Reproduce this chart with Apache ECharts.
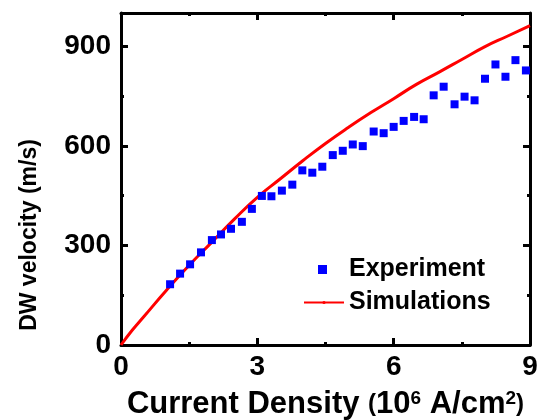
<!DOCTYPE html>
<html>
<head>
<meta charset="utf-8">
<script src="https://cdn.jsdelivr.net/npm/echarts@6/dist/echarts.min.js"></script>
<style>
  html, body { margin: 0; padding: 0; background: #fff; }
  #chart { width: 538px; height: 420px; }
</style>
</head>
<body>
<div id="chart"></div>
<script>
// experiment points (blue squares)
const expX = [1.08, 1.30, 1.52, 1.76, 2.00, 2.20, 2.42, 2.66, 2.88, 3.10, 3.31, 3.54, 3.77, 3.99, 4.21, 4.43, 4.66, 4.88,
  5.10, 5.32, 5.56, 5.78, 6.00, 6.22, 6.45, 6.66, 6.88, 7.10, 7.34, 7.56, 7.78, 8.01, 8.24, 8.46, 8.68, 8.91];
const expY = [183, 215, 243, 279, 316, 333, 350, 371, 410, 449, 448, 465, 483, 526, 519, 537, 572, 585,
  604, 599, 643, 638, 657, 675, 687, 680, 752, 778, 725, 748, 737, 802, 845, 808, 858, 827];
// simulation curve (red line)
const simX = [0, 0.25, 0.5, 1, 1.5, 2, 2.5, 3, 3.5, 4, 4.5, 5, 5.5, 6, 6.5, 7, 7.5, 8, 8.5, 9];
const simY = [0, 45, 85, 165, 240, 310, 380, 445, 500, 555, 607, 655, 700, 742, 785, 822, 860, 898, 930, 962];
// ticks
const xTicks = [0, 3, 6, 9];
const yTicks = [0, 300, 600, 900];
const yMinor = [150, 450, 750];

const font = 'Liberation Sans, Arial, sans-serif';
let myChart = echarts.init(document.getElementById('chart'));

function xAx(pos, labels) {
  return {
    type: 'value', position: pos, min: 0, max: 9, interval: 3,
    axisLine: { show: true, onZero: false, lineStyle: { color: '#000', width: 3 } },
    axisTick: { show: true, inside: true, length: 7, lineStyle: { color: '#000', width: 3 } },
    minorTick: { show: true, splitNumber: 2, length: 3, lineStyle: { color: '#000', width: 3 } },
    splitLine: { show: false },
    axisLabel: { show: labels, margin: 8, color: '#000', fontSize: 28, fontWeight: 'bold', fontFamily: font },
    name: labels ? 'Current Density {s|(}10{sup|6} A/cm{sup|2}{s|)}' : '',
    nameLocation: 'middle',
    nameGap: 44,
    nameTextStyle: {
      color: '#000', fontSize: 31, fontWeight: 'bold', fontFamily: font, lineHeight: 30,
      rich: {
        s: { fontSize: 24, fontWeight: 'bold', fontFamily: font, color: '#000', lineHeight: 30 },
        sup: { fontSize: 19, fontWeight: 'bold', fontFamily: font, color: '#000', verticalAlign: 'top', lineHeight: 18 }
      }
    }
  };
}

function yAx(pos, ticks, len, labels, line) {
  return {
    type: 'value', position: pos, min: 0, max: 1000,
    axisLine: { show: line, onZero: false, lineStyle: { color: '#000', width: 3 } },
    axisTick: { show: true, inside: true, length: len, customValues: ticks, lineStyle: { color: '#000', width: 3 } },
    splitLine: { show: false },
    axisLabel: { show: labels, customValues: yTicks, margin: 10, color: '#000', fontSize: 28, fontWeight: 'bold', fontFamily: font },
    name: labels ? 'DW velocity (m/s)' : '',
    nameLocation: 'middle',
    nameGap: 80,
    nameTextStyle: { color: '#000', fontSize: 23, fontWeight: 'bold', fontFamily: font, padding: [0, 112, 0, 0] }
  };
}

let expData = expX.map((x, i) => [x, expY[i]]);
let simData = simX.map((x, i) => [x, simY[i]]);

let option = {
  backgroundColor: '#fff',
  animation: false,
  grid: { left: 121, right: 8, top: 13, bottom: 75, containLabel: false, outerBoundsMode: 'none' },
  xAxis: [xAx('bottom', true), xAx('top', false)],
  yAxis: [
    yAx('left', yTicks, 7, true, true),
    yAx('right', yTicks, 7, false, true),
    yAx('left', yMinor, 3, false, false),
    yAx('right', yMinor, 3, false, false)
  ],
  legend: [
    {
      data: ['Experiment'], left: 313, top: 252, itemWidth: 9, itemHeight: 9, selectedMode: false,
      textStyle: { color: '#000', fontSize: 25, fontWeight: 'bold', fontFamily: font, padding: [0, 0, 0, 17] }
    },
    {
      data: ['Simulations'], left: 298, top: 285, itemWidth: 40, itemHeight: 4, selectedMode: false,
      textStyle: { color: '#000', fontSize: 25, fontWeight: 'bold', fontFamily: font }
    }
  ],
  series: [
    {
      name: 'Simulations', type: 'line', data: simData, smooth: true, symbol: 'none',
      lineStyle: { color: '#ff0000', width: 3 }, itemStyle: { color: '#ff0000' }, z: 3
    },
    {
      name: 'Experiment', type: 'scatter', data: expData, symbol: 'rect', symbolSize: 8,
      itemStyle: { color: '#0000ff', opacity: 1 }, z: 4
    }
  ]
};
myChart.setOption(option);
</script>
</body>
</html>
